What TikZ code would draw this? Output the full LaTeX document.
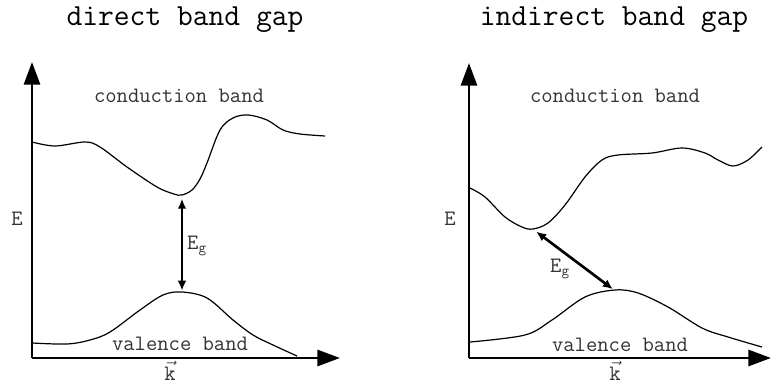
\documentclass[tikz,border=0pt]{standalone}
\usepackage{fontspec}
\usetikzlibrary{arrows.meta}
\tikzset{
  axis/.style={line width=2.2pt,-{Triangle[length=17pt,width=12pt]}},
  band/.style={line width=0.9pt},
  gaparrow/.style={line width=2pt,{Latex[length=7.5pt,width=6.5pt]}-{Latex[length=7.5pt,width=6.5pt]},shorten <=2pt,shorten >=1pt},
  ttl/.style={font=\ttfamily\fontsize{23}{27}\selectfont},
  lbl/.style={font=\ttfamily\fontsize{16.5}{19}\selectfont,text=black!80,inner sep=1pt}
}

\begin{document}
\begin{tikzpicture}[x=0.75pt,y=-0.75pt]
  \useasboundingbox (0,0) rectangle (771,385);

  % left panel: direct gap
  \node[ttl] (ttl1) at (185,20) {direct band gap};
  \coordinate (o1) at (32,358);
  \coordinate (ytip1) at (32,62);
  \coordinate (xtip1) at (340,358);
  \draw[axis] (o1) -- (ytip1);
  \draw[axis] (o1) -- (xtip1);
  \node[lbl] (E1) at (17,219) {E};
  \node[lbl] (k1) at (170,371) {$\vec{\hbox{\ttfamily k}}$};
  \node[lbl] (cb1) at (179,96) {conduction band};
  \node[lbl] (vb1) at (180,344) {valence band};

  \draw[band] plot[smooth,tension=0.55] coordinates {(32,142) (55,146) (85,142) (100,147) (127,167)
    (157,187) (174,194) (182,195) (192,190) (200,179) (207,163) (220,130) (233,118) (248,115)
    (267,120) (283,130) (300,134) (325,136)};
  \draw[band] plot[smooth,tension=0.55] coordinates {(32,343) (67,344) (90,340) (110,332) (140,310)
    (163,295) (182,292) (207,298) (233,320) (253,335) (273,345) (297,356)};
  \coordinate (cmin1) at (182,196);
  \coordinate (vmax1) at (182,292);
  \draw[gaparrow] (cmin1) -- (vmax1);
  \node[lbl] (Eg1) at (197,246) {E$_{\hbox{\ttfamily\fontsize{11}{12}\selectfont g}}$};

  % right panel: indirect gap
  \node[ttl] (ttl2) at (614,20) {indirect band gap};
  \coordinate (o2) at (469,358);
  \coordinate (ytip2) at (469,63);
  \coordinate (xtip2) at (771,358);
  \draw[axis] (o2) -- (ytip2);
  \draw[axis] (o2) -- (xtip2);
  \node[lbl] (E2) at (450,219) {E};
  \node[lbl] (k2) at (615,371) {$\vec{\hbox{\ttfamily k}}$};
  \node[lbl] (cb2) at (615,96) {conduction band};
  \node[lbl] (vb2) at (620,345) {valence band};

  \draw[band] plot[smooth,tension=0.55] coordinates {(470,188) (485,197) (505,217) (522,227)
    (533,229) (548,223) (565,205) (585,177) (602,160) (618,155) (652,153) (682,148) (705,153)
    (718,160) (733,166) (748,160) (762,147)};
  \draw[band] plot[smooth,tension=0.55] coordinates {(470,342) (525,335) (552,320) (585,297)
    (615,290) (638,293) (668,307) (702,328) (728,337) (762,347)};
  \coordinate (cmin2) at (534,230);
  \coordinate (vmax2) at (614,290);
  \draw[gaparrow] (cmin2) -- (vmax2);
  \node[lbl] (Eg2) at (560,269) {E$_{\hbox{\ttfamily\fontsize{11}{12}\selectfont g}}$};
\end{tikzpicture}
\end{document}
